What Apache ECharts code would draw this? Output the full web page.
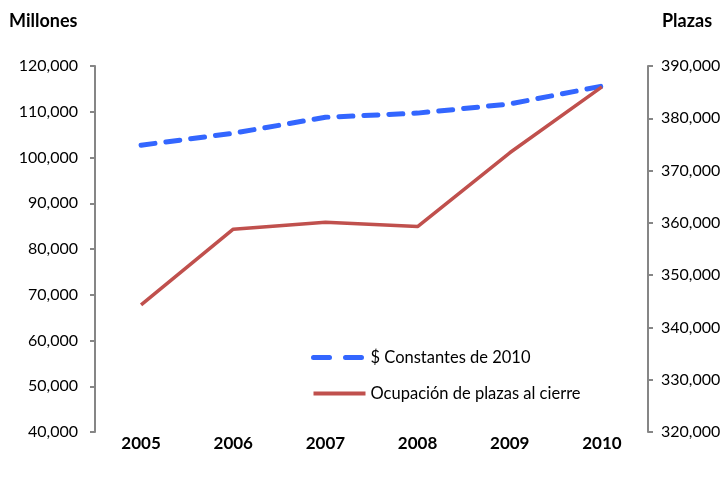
<!DOCTYPE html>
<html>
<head>
<meta charset="utf-8">
<script src="https://cdn.jsdelivr.net/npm/echarts@6/dist/echarts.min.js"></script>
<style>html,body{margin:0;padding:0;background:#fff}#c{width:725px;height:477px}</style>
</head>
<body>
<div id="c"></div>
<script>
var categories = ['2005', '2006', '2007', '2008', '2009', '2010'];
var constantes = [102700, 105300, 108800, 109700, 111700, 115600];
var ocupacion = [344300, 358800, 360100, 359300, 373400, 386000];
var leftTitle = 'Millones';
var rightTitle = 'Plazas';
var seriesNames = ['$ Constantes de 2010', 'Ocupación de plazas al cierre'];

var fmt = function (v) { return v.toLocaleString('en-US'); };
var font = 'Lato, "Open Sans", sans-serif';
var chart = echarts.init(document.getElementById('c'));
chart.setOption({
  animation: false,
  backgroundColor: '#fff',
  textStyle: { fontFamily: font },
  grid: { left: 95, right: 77, top: 66, bottom: 45 },
  graphic: [
    { type: 'text', left: 9, top: 12, style: { text: leftTitle, font: 'bold 18px ' + font, fill: '#000' } },
    { type: 'text', left: 662, top: 12, style: { text: rightTitle, font: 'bold 18px ' + font, fill: '#000' } }
  ],
  legend: {
    orient: 'vertical', left: 306, top: 344, itemWidth: 52, itemHeight: 14, itemGap: 19,
    itemStyle: { opacity: 0 },
    textStyle: { fontSize: 16.5, color: '#000', fontFamily: font },
    data: [
      { name: seriesNames[0], lineStyle: { width: 5, type: [16, 16], cap: 'round', color: '#3366FF' } },
      { name: seriesNames[1], lineStyle: { width: 4, color: '#C0504D' } }
    ]
  },
  xAxis: {
    type: 'category', data: categories, boundaryGap: true,
    axisLine: { show: false }, axisTick: { show: false },
    axisLabel: { fontWeight: 'bold', fontSize: 17, color: '#000', margin: 3 }
  },
  yAxis: [
    {
      type: 'value', min: 40000, max: 120000, interval: 10000,
      axisLine: { show: true, lineStyle: { color: '#868686', width: 2 } },
      axisTick: { show: true, length: 5, lineStyle: { color: '#868686', width: 2 } },
      splitLine: { show: false },
      axisLabel: { formatter: fmt, fontSize: 16, color: '#000', margin: 17 }
    },
    {
      type: 'value', min: 320000, max: 390000, interval: 10000, position: 'right',
      axisLine: { show: true, lineStyle: { color: '#868686', width: 2 } },
      axisTick: { show: true, length: 5, lineStyle: { color: '#868686', width: 2 } },
      splitLine: { show: false },
      axisLabel: { formatter: fmt, fontSize: 16, color: '#000', margin: 13 }
    }
  ],
  series: [
    {
      name: seriesNames[0], type: 'line', yAxisIndex: 0, data: constantes,
      symbol: 'none', color: '#3366FF',
      lineStyle: { color: '#3366FF', width: 5, type: [14, 11], cap: 'round' }
    },
    {
      name: seriesNames[1], type: 'line', yAxisIndex: 1, data: ocupacion,
      symbol: 'none', color: '#C0504D',
      lineStyle: { color: '#C0504D', width: 3.5 }
    }
  ]
});
</script>
</body>
</html>
